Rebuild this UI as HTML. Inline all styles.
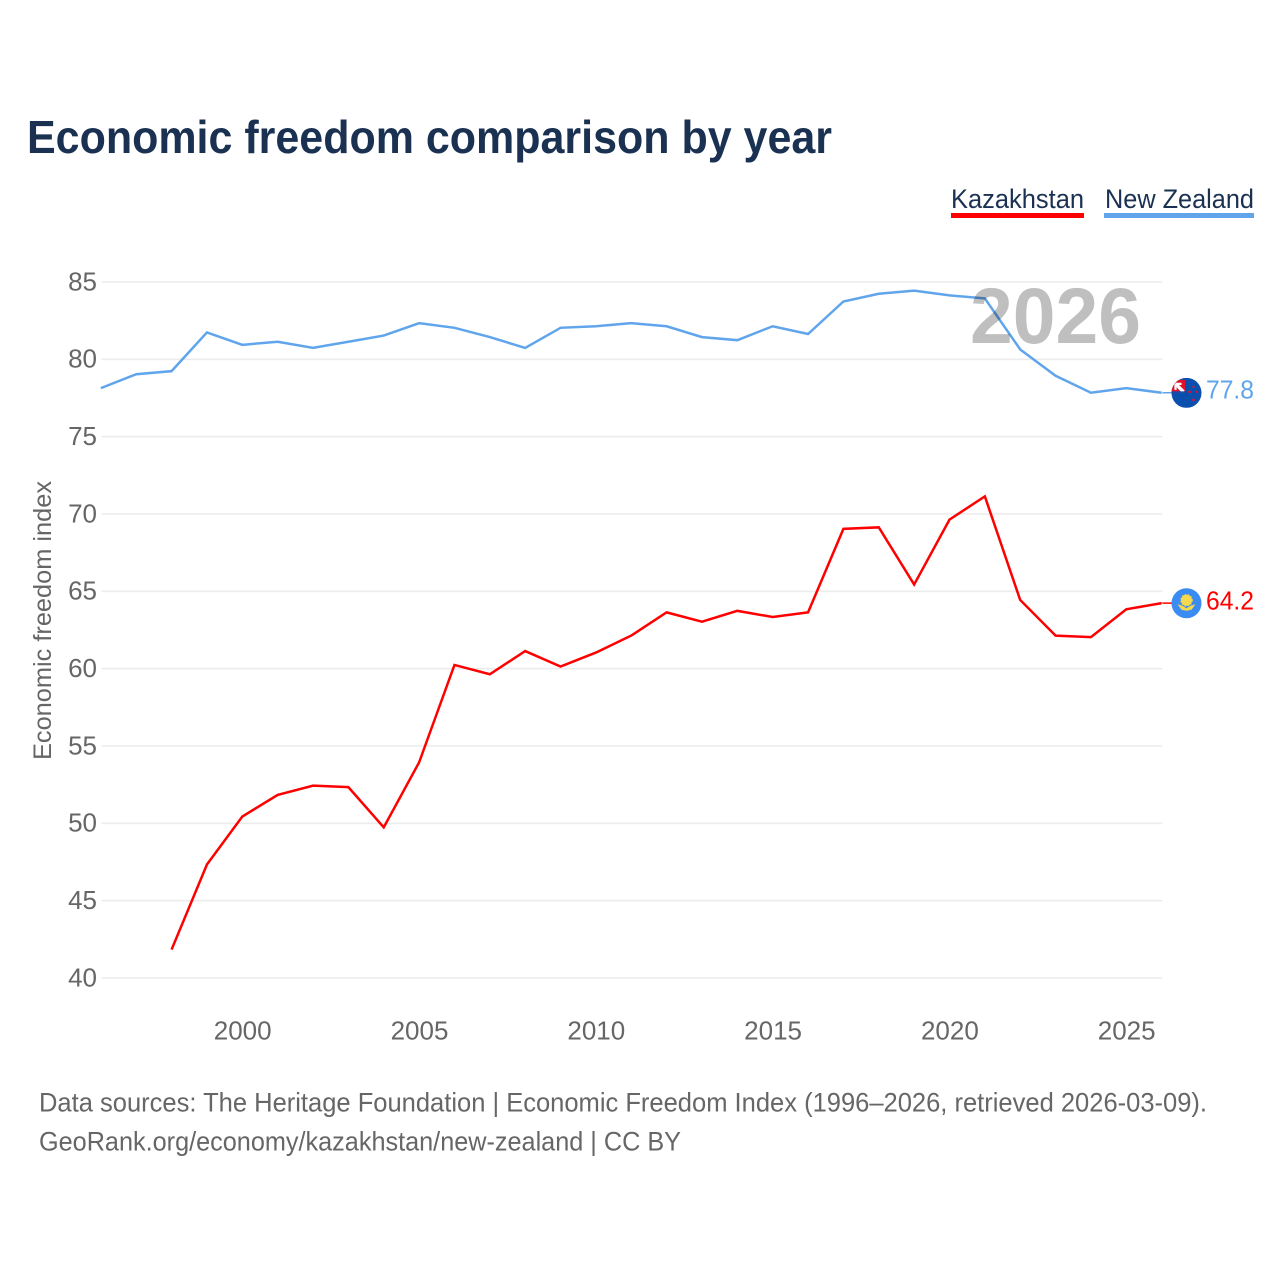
<!DOCTYPE html>
<html lang="en">
<head>
<meta charset="utf-8">
<title>Economic freedom comparison by year</title>
<style>
html,body{margin:0;padding:0;background:#fff;width:1280px;height:1280px;overflow:hidden}
svg{display:block}
text{font-family:"Liberation Sans",sans-serif}
</style>
</head>
<body>
<svg id="chart" xmlns="http://www.w3.org/2000/svg" width="1280" height="1280" viewBox="0 0 1280 1280">
<defs><clipPath id="nzClip"><circle r="15"/></clipPath></defs>
<rect width="1280" height="1280" fill="#fff"/>
<text x="27" y="153" font-size="46" font-weight="700" fill="#1a3152" textLength="805" lengthAdjust="spacingAndGlyphs">Economic freedom comparison by year</text>
<text x="951" y="208" font-size="27" fill="#1a3152" textLength="133" lengthAdjust="spacingAndGlyphs">Kazakhstan</text>
<rect x="951" y="213" width="133" height="5" fill="#ff0000"/>
<text x="1105" y="208" font-size="27" fill="#1a3152" textLength="149" lengthAdjust="spacingAndGlyphs">New Zealand</text>
<rect x="1104" y="213" width="150" height="5" fill="#60a5ec"/>
<g id="grid"></g>
<g id="yticks"></g>
<g id="xticks"></g>
<text transform="translate(51,760) rotate(-90)" font-size="25" fill="#666" textLength="279" lengthAdjust="spacingAndGlyphs">Economic freedom index</text>
<g id="series" transform="translate(-0.7,-0.6)"></g>
<text id="yearLabel" x="970" y="343" font-size="79" font-weight="700" fill="#000" fill-opacity="0.25" textLength="171" lengthAdjust="spacingAndGlyphs">2026</text>
<g id="endpoints"></g>
<text x="39" y="1111.5" font-size="27" fill="#666" textLength="1168" lengthAdjust="spacingAndGlyphs">Data sources: The Heritage Foundation | Economic Freedom Index (1996–2026, retrieved 2026-03-09).</text>
<text x="39" y="1150.5" font-size="27" fill="#666" textLength="642" lengthAdjust="spacingAndGlyphs">GeoRank.org/economy/kazakhstan/new-zealand | CC BY</text>
</svg>
<script>
const years = [1996,1997,1998,1999,2000,2001,2002,2003,2004,2005,2006,2007,2008,2009,2010,2011,2012,2013,2014,2015,2016,2017,2018,2019,2020,2021,2022,2023,2024,2025,2026];
const newZealand = [78.1,79.0,79.2,81.7,80.9,81.1,80.7,81.1,81.5,82.3,82.0,81.4,80.7,82.0,82.1,82.3,82.1,81.4,81.2,82.1,81.6,83.7,84.2,84.4,84.1,83.9,80.6,78.9,77.8,78.1,77.8];
const kazakhstan = [null,null,41.8,47.3,50.4,51.8,52.4,52.3,49.7,53.9,60.2,59.6,61.1,60.1,61.0,62.1,63.6,63.0,63.7,63.3,63.6,69.0,69.1,65.4,69.6,71.1,64.4,62.1,62.0,63.8,64.2];
const yTickValues = [40,45,50,55,60,65,70,75,80,85];
const xTickValues = [2000,2005,2010,2015,2020,2025];

const NS = 'http://www.w3.org/2000/svg';
const xScale = function (year) { return 243 + (year - 2000) * (1127 - 243) / 25; };
const yScale = function (v) { return 978 - (v - 40) * (978 - 282) / 45; };
const xLeft = xScale(years[0]);
const xRight = xScale(years[years.length - 1]);

function make(tag, attrs, parent) {
  const el = document.createElementNS(NS, tag);
  for (const k in attrs) el.setAttribute(k, attrs[k]);
  parent.appendChild(el);
  return el;
}

const grid = document.getElementById('grid');
const yticks = document.getElementById('yticks');
yTickValues.forEach(function (v) {
  const line = make('line', {x1: xLeft, x2: xRight, y1: yScale(v), y2: yScale(v), stroke: '#ececec', 'stroke-width': 1.6}, grid);
  
  
  const t = make('text', {x: 97, y: yScale(v) + 8.3, 'text-anchor': 'end', 'font-size': 26, fill: '#666'}, yticks);
  
  
  t.textContent = v;
});

const xticks = document.getElementById('xticks');
xTickValues.forEach(function (y) {
  const t = make('text', {x: xScale(y) - 0.3, y: 1039.5, 'text-anchor': 'middle', 'font-size': 26, fill: '#666'}, xticks);
  
  
  t.textContent = y;
});

function linePoints(values) {
  const pts = [];
  values.forEach(function (v, i) {
    if (v !== null) pts.push(xScale(years[i]).toFixed(2) + ',' + yScale(v).toFixed(2));
  });
  return pts.join(' ');
}

const series = document.getElementById('series');
const kzLine = make('polyline', {points: linePoints(kazakhstan), fill: 'none', stroke: '#ff0000', 'stroke-width': 2.5, 'stroke-linejoin': 'miter'}, series);


const nzLine = make('polyline', {points: linePoints(newZealand), fill: 'none', stroke: '#60a5ec', 'stroke-width': 2.5, 'stroke-linejoin': 'miter'}, series);



const endpoints = document.getElementById('endpoints');
const fx = 1186.5;
const kzLast = kazakhstan[kazakhstan.length - 1];
const nzLast = newZealand[newZealand.length - 1];
const kzY = yScale(kzLast);
const nzY = yScale(nzLast);

const kzConn = make('line', {x1: xRight, x2: fx, y1: kzY - 0.6, y2: kzY - 0.6, stroke: '#ff0000', 'stroke-width': 1.5}, endpoints);


const nzConn = make('line', {x1: xRight, x2: fx, y1: nzY - 0.6, y2: nzY - 0.6, stroke: '#60a5ec', 'stroke-width': 1.5}, endpoints);



/* Kazakhstan flag */
const kzFlag = make('g', {transform: 'translate(' + fx + ',' + (kzY - 0.5) + ')'}, endpoints);


make('circle', {r: 15, fill: '#3a8cf2'}, kzFlag);
make('circle', {cy: -3, r: 5.5, fill: '#f6d94f', stroke: '#f6d94f', 'stroke-width': 1.5, 'stroke-dasharray': '1.5 1.5'}, kzFlag);
make('circle', {cy: -3, r: 3.8, fill: '#f6d94f'}, kzFlag);
make('path', {d: 'M-9,1 L-4,2.5 L0,5 L4,2.5 L9,1 L5,6.5 L0,7.5 L-5,6.5 Z', fill: '#f6d94f'}, kzFlag);

/* New Zealand flag */
const nzFlag = make('g', {transform: 'translate(' + fx + ',' + (nzY - 0.5) + ')', 'clip-path': 'url(#nzClip)'}, endpoints);


make('rect', {x: -15, y: -15, width: 30, height: 30, fill: '#0a4fae'}, nzFlag);
make('rect', {x: -15, y: -13, width: 15, height: 13, fill: '#e3122c'}, nzFlag);
make('path', {d: 'M-11,-9 L-3,-1', stroke: '#ffffff', 'stroke-width': 3.4, fill: 'none'}, nzFlag);
make('path', {d: 'M-11,-9 L-5,-9 M-11,-9 L-11,-3', stroke: '#ffffff', 'stroke-width': 2.2, fill: 'none'}, nzFlag);
make('rect', {x: -1.5, y: -15, width: 1.5, height: 14, fill: '#0a4fae'}, nzFlag);
make('rect', {x: -15, y: -1.5, width: 15, height: 1.5, fill: '#0a4fae'}, nzFlag);
make('circle', {cx: 3, cy: -1, r: 1.3, fill: '#e3122c'}, nzFlag);
make('circle', {cx: 7, cy: -6, r: 1.1, fill: '#e3122c'}, nzFlag);
make('circle', {cx: 10, cy: -1, r: 1.1, fill: '#e3122c'}, nzFlag);
make('circle', {cx: 7, cy: 7, r: 1.3, fill: '#e3122c'}, nzFlag);

const kzVal = make('text', {x: 1206, y: kzY + 6, 'font-size': 26, fill: '#ff0000', textLength: 48, lengthAdjust: 'spacingAndGlyphs'}, endpoints);


kzVal.textContent = kzLast.toFixed(1);
const nzVal = make('text', {x: 1206, y: nzY + 5, 'font-size': 26, fill: '#60a5ec', textLength: 48, lengthAdjust: 'spacingAndGlyphs'}, endpoints);


nzVal.textContent = nzLast.toFixed(1);
</script>
</body>
</html>
